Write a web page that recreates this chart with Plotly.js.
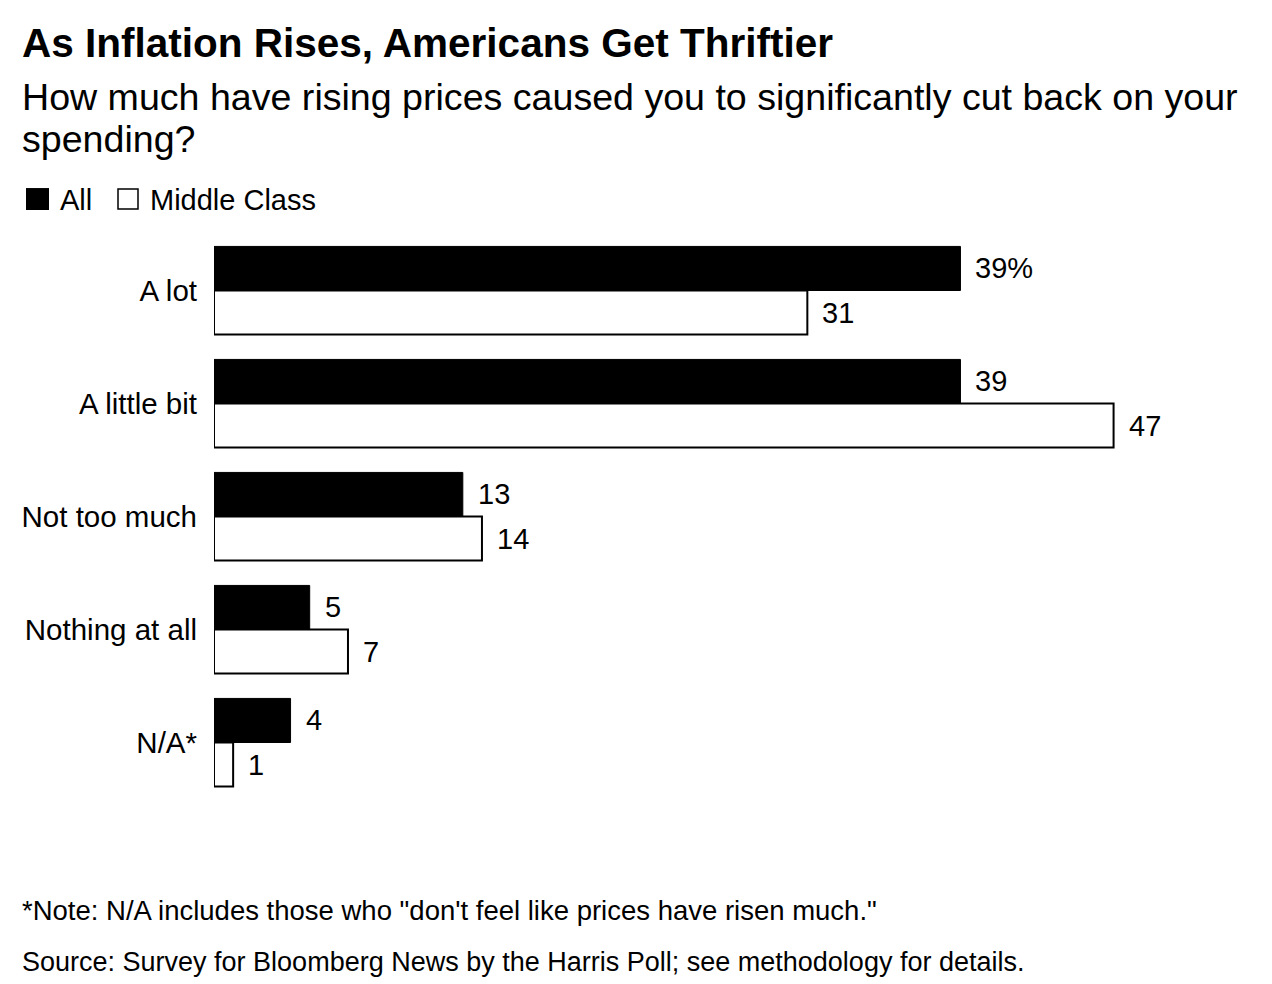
<!DOCTYPE html>
<html>
<head>
<meta charset="utf-8">
<script src="https://cdn.plot.ly/plotly-3.0.1.min.js"></script>
<style>
  html, body { margin: 0; padding: 0; background: #fff; }
  #chart { width: 1272px; height: 984px; }
</style>
</head>
<body>
<div id="chart"></div>
<script>
// ---- Data ----
const categories = ["A lot", "A little bit", "Not too much", "Nothing at all", "N/A*"];
const allValues = [39, 39, 13, 5, 4];
const middleClassValues = [31, 47, 14, 7, 1];
const seriesNames = ["All", "Middle Class"];

const titleText = "As Inflation Rises, Americans Get Thriftier";
const subtitleLine1 = "How much have rising prices caused you to significantly cut back on your";
const subtitleLine2 = "spending?";
const noteText = "*Note: N/A includes those who \"don't feel like prices have risen much.\"";
const sourceText = "Source: Survey for Bloomberg News by the Harris Poll; see methodology for details.";

// ---- Layout geometry ----
const FONT = '"Liberation Sans", Arial, Helvetica, sans-serif';
const W = 1272, Hh = 984;
const L = 214, R = 101, T = 234, B = 184.5;
const plotW = W - L - R, plotH = Hh - T - B;
const xp = px => (px - L) / plotW;
const yp = py => (Hh - B - py) / plotH;

const traces = [
  {
    type: 'bar', orientation: 'h', name: seriesNames[0],
    y: categories, x: allValues,
    marker: { color: '#000000', line: { color: '#000000', width: 1 } },
    hoverinfo: 'x+y'
  },
  {
    type: 'bar', orientation: 'h', name: seriesNames[1],
    y: categories, x: middleClassValues,
    marker: { color: '#ffffff', line: { color: '#000000', width: 2 } },
    hoverinfo: 'x+y'
  }
];

const annotations = [];
const txt = (text, x, y, size, opts = {}) => Object.assign({
  text, xref: 'paper', yref: 'paper', x: xp(x), y: yp(y),
  xanchor: 'left', yanchor: 'middle', showarrow: false,
  font: { family: FONT, size, color: '#000' }
}, opts);

annotations.push(txt('<b>' + titleText + '</b>', 20, 43, 40.5));
annotations.push(txt(subtitleLine1, 20, 97, 37.6));
annotations.push(txt(subtitleLine2, 20, 139, 37.6));
annotations.push(txt(seriesNames[0], 58, 200, 29));
annotations.push(txt(seriesNames[1], 148, 200, 29));
annotations.push(txt(noteText, 20, 911, 27.5));
annotations.push(txt(sourceText, 20, 963, 27));

// value labels next to bars (data coordinates)
allValues.forEach((v, i) => {
  annotations.push({
    text: i === 0 ? v + '%' : String(v),
    x: v, y: i - 0.2, xref: 'x', yref: 'y',
    xanchor: 'left', yanchor: 'middle', xshift: 13, showarrow: false,
    font: { family: FONT, size: 29, color: '#000' }
  });
});
middleClassValues.forEach((v, i) => {
  annotations.push({
    text: String(v),
    x: v, y: i + 0.2, xref: 'x', yref: 'y',
    xanchor: 'left', yanchor: 'middle', xshift: 13, showarrow: false,
    font: { family: FONT, size: 29, color: '#000' }
  });
});

const shapes = [
  { type: 'rect', xref: 'paper', yref: 'paper', x0: xp(26), x1: xp(49), y0: yp(210), y1: yp(188),
    fillcolor: '#000', line: { color: '#000', width: 0 } },
  { type: 'rect', xref: 'paper', yref: 'paper', x0: xp(118), x1: xp(138), y0: yp(209), y1: yp(189),
    fillcolor: '#fff', line: { color: '#000', width: 1.5 } }
];

const layout = {
  width: W, height: Hh,
  margin: { l: L, r: R, t: T, b: B, pad: 0 },
  paper_bgcolor: '#fff', plot_bgcolor: '#fff',
  showlegend: false,
  barmode: 'group', bargap: 0.22, bargroupgap: 0,
  font: { family: FONT, color: '#000' },
  xaxis: { range: [0, 50], visible: false, showgrid: false, zeroline: false, fixedrange: true },
  yaxis: {
    type: 'category', range: [4.5, -0.5],
    showgrid: false, zeroline: false, showline: false, ticks: '',
    ticklabelstandoff: 16,
    tickfont: { family: FONT, size: 29.5, color: '#000' },
    fixedrange: true
  },
  annotations, shapes
};

Plotly.newPlot('chart', traces, layout, { displayModeBar: false, staticPlot: true });
</script>
</body>
</html>
